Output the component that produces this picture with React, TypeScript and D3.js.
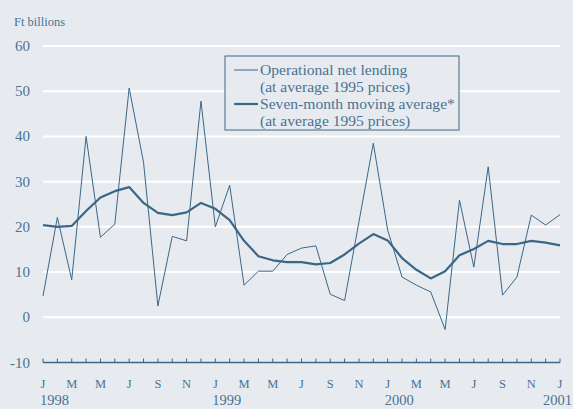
import React from "react";
import * as d3 from "d3";

const monthLabels = ["J","F","M","A","M","J","J","A","S","O","N","D"];
const yearLabels = ["1998", "1999", "2000", "2001"];
const yTicks = [60, 50, 40, 30, 20, 10, 0, -10];

// Jan 1998 .. Jan 2001 (37 months)
const netLending = [
  4.7, 22.1, 8.3, 40.0, 17.7, 20.6, 50.7, 34.3, 2.5, 17.9, 16.9, 47.8,
  20.0, 29.2, 7.1, 10.2, 10.2, 13.9, 15.3, 15.8, 5.1, 3.7, 21.1, 38.5,
  19.3, 8.9, 7.1, 5.6, -2.7, 25.9, 11.1, 33.3, 4.9, 8.9, 22.6, 20.4,
  22.7,
];
const movingAvg = [
  20.4, 20.0, 20.2, 23.5, 26.5, 27.9, 28.8, 25.3, 23.1, 22.6, 23.2, 25.3,
  24.0, 21.5, 16.9, 13.5, 12.6, 12.2, 12.2, 11.7, 12.0, 13.9, 16.3, 18.4,
  17.0, 13.1, 10.5, 8.6, 10.2, 13.7, 15.1, 16.9, 16.2, 16.2, 16.9, 16.5,
  15.9,
];

const W = 573, H = 409;
const BG = "#e7ebf0";
const TXT = "#4b7291";
const LINE = "#3b6787";
const FONT = "'Liberation Serif', 'Times New Roman', serif";

export default function App() {
  const n = netLending.length;
  const x = d3.scaleLinear().domain([0, n - 1]).range([43, 560]);
  const y = d3.scaleLinear().domain([-10, 60]).range([362.5, 46]);
  const line = d3.line<number>().x((_, i) => x(i)).y((d) => y(d));
  const idx = d3.range(n);

  return (
    <svg width={W} height={H} style={{ position: "absolute", left: 0, top: 0, display: "block" }}>
      <rect x={0} y={0} width={W} height={H} fill={BG} />
      <text x={14} y={26} fontFamily={FONT} fontSize={12.5} fill={TXT}>Ft billions</text>
      {yTicks.map((t) => (
        <g key={t}>
          {t > -10 && (
            <line x1={x(0)} x2={x(n - 1)} y1={y(t)} y2={y(t)} stroke="#ffffff" strokeWidth={2} />
          )}
          <text x={30} y={y(t) + 5} textAnchor="end" fontFamily={FONT} fontSize={15} fill={TXT}>
            {t}
          </text>
        </g>
      ))}
      <line x1={x(0)} x2={x(n - 1)} y1={y(-10)} y2={y(-10)} stroke={LINE} strokeWidth={1.3} />
      {idx.map((i) => (
        <g key={i}>
          <line x1={x(i)} x2={x(i)} y1={y(-10)} y2={y(-10) - 4} stroke={LINE} strokeWidth={1} />
          <text x={x(i)} y={388} textAnchor="middle" fontFamily={FONT} fontSize={12.5} fill={TXT}>
            {i % 2 === 0 ? monthLabels[i % 12] : ""}
          </text>
        </g>
      ))}
      {yearLabels.map((yl, k) => (
        <text key={yl} x={k < 3 ? x(k * 12) - 3 : 543} y={405} fontFamily={FONT} fontSize={14.5} fill={TXT}>
          {yl}
        </text>
      ))}
      <path d={line(netLending) || ""} fill="none" stroke={LINE} strokeWidth={1} strokeLinejoin="miter" />
      <path d={line(movingAvg) || ""} fill="none" stroke={LINE} strokeWidth={2.2} strokeLinejoin="round" />
      <g>
        <rect x={225} y={56} width={234} height={74} fill={BG} stroke={LINE} strokeWidth={1} />
        <line x1={234} x2={258} y1={70} y2={70} stroke={LINE} strokeWidth={1} />
        <line x1={234} x2={258} y1={104} y2={104} stroke={LINE} strokeWidth={2.2} />
        {["Operational net lending", "(at average 1995 prices)", "Seven-month moving average*", "(at average 1995 prices)"].map((s, k) => (
          <text key={k} x={260} y={75 + k * 17} fontFamily={FONT} fontSize={15.6} fill={TXT}>{s}</text>
        ))}
      </g>
    </svg>
  );
}
